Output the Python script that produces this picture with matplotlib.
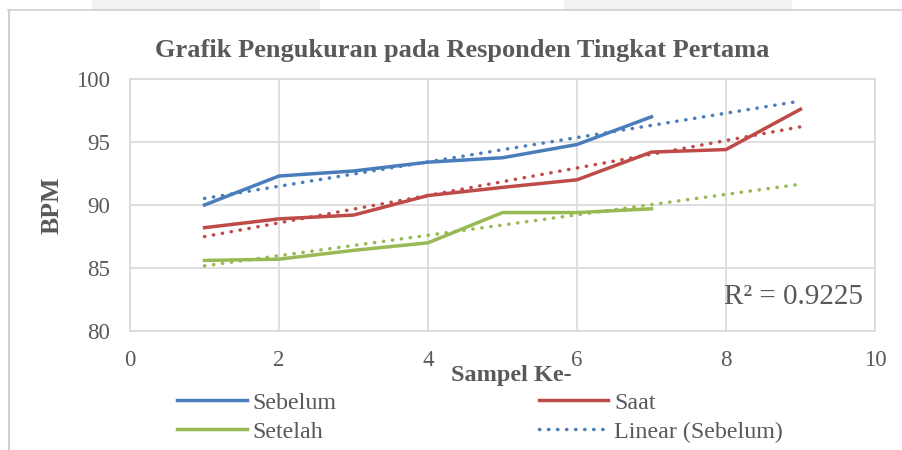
import matplotlib
matplotlib.use("Agg")
import matplotlib.pyplot as plt
import numpy as np
from matplotlib.patches import Rectangle
from matplotlib.lines import Line2D

# data
sampel_7 = [1, 2, 3, 4, 5, 6, 7]
sampel_9 = [1, 2, 3, 4, 5, 6, 7, 8, 9]
sebelum = [90.0, 92.3, 92.7, 93.4, 93.75, 94.8, 97.0]
saat = [88.2, 88.9, 89.2, 90.75, 91.4, 92.0, 94.2, 94.4, 97.6]
setelah = [85.6, 85.7, 86.4, 87.0, 89.4, 89.4, 89.7]
trend_x = [1, 9]

biru = "#4a7ebb"
merah = "#be4b48"
hijau = "#98b954"
abu = "#595959"
garis = "#d9d9d9"

plt.rcParams["font.family"] = ["Liberation Serif", "DejaVu Serif"]

fig = plt.figure(figsize=(9.02, 4.5), dpi=100)
ax = fig.add_axes([130 / 902, 1 - 331 / 450, 745 / 902, 252 / 450])

# frame of the chart (screenshot edges)
fig.patches.append(Rectangle((92 / 902, 1 - 9 / 450), 227 / 902, 9 / 450,
                             transform=fig.transFigure, color="#f2f2f2", zorder=0))
fig.patches.append(Rectangle((564 / 902, 1 - 9 / 450), 227 / 902, 9 / 450,
                             transform=fig.transFigure, color="#f2f2f2", zorder=0))
fig.add_artist(Line2D([8 / 902, 1], [1 - 9.5 / 450, 1 - 9.5 / 450], color="#d0d0d0", lw=1.2))
fig.add_artist(Line2D([8.5 / 902, 8.5 / 902], [0, 1 - 9.5 / 450], color="#d0d0d0", lw=1.5))

lw = 2.5
dot = dict(lw=lw, linestyle=(0, (0.1, 2.5)), dash_capstyle="round")

ax.plot(sampel_7, sebelum, color=biru, lw=lw, label="Sebelum", zorder=3)
ax.plot(sampel_9, saat, color=merah, lw=lw, label="Saat", zorder=3)
ax.plot(sampel_7, setelah, color=hijau, lw=lw, label="Setelah", zorder=3)

# linear trendlines (forecast forward to x = 9)
for xs, ys, c, lab in [(sampel_7, sebelum, biru, "Linear (Sebelum)"),
                       (sampel_9, saat, merah, "_Linear (Saat)"),
                       (sampel_7, setelah, hijau, "_Linear (Setelah)")]:
    m, b = np.polyfit(xs, ys, 1)
    tx = np.array(trend_x, dtype=float)
    ax.plot(tx, m * tx + b, color=c, label=lab, zorder=2, **dot)

ax.text(9.84, 82.7, "R² = 0.9225", fontsize=21, color=abu, ha="right", va="center")

ax.set_xlim(0, 10)
ax.set_ylim(80, 100)
ax.set_xticks(np.arange(0, 11, 2))
ax.set_yticks(np.arange(80, 101, 5))
ax.grid(color=garis, lw=1.2)
ax.set_axisbelow(True)
for s in ax.spines.values():
    s.set_color(garis)
    s.set_linewidth(1.2)
ax.tick_params(length=0, labelsize=16.5, labelcolor=abu)
ax.tick_params(axis="x", pad=13.5)
ax.tick_params(axis="y", pad=14.5)

fig.text(462 / 902, 1 - 57 / 450, "Grafik Pengukuran pada Responden Tingkat Pertama",
         fontsize=19, fontweight="bold", color=abu, ha="center", va="baseline")
fig.text(511 / 902, 1 - 381 / 450, "Sampel Ke-", fontsize=17.5, fontweight="bold",
         color=abu, ha="center", va="baseline")
fig.text(52 / 902, 1 - 205 / 450, "BPM", fontsize=18.5, fontweight="bold",
         color=abu, ha="center", va="center", rotation=90)

h, l = ax.get_legend_handles_labels()
order = [0, 2, 1, 3]
leg = fig.legend([h[i] for i in order], [l[i] for i in order], ncol=2,
                 loc="upper left", bbox_to_anchor=(177 / 902, 1 - 392 / 450),
                 frameon=False, fontsize=17.3, handlelength=2.9, handletextpad=0.25,
                 columnspacing=8.4, labelspacing=0.3, borderpad=0, borderaxespad=0)
for t in leg.get_texts():
    t.set_color(abu)

fig.savefig("out.png", dpi=100)
